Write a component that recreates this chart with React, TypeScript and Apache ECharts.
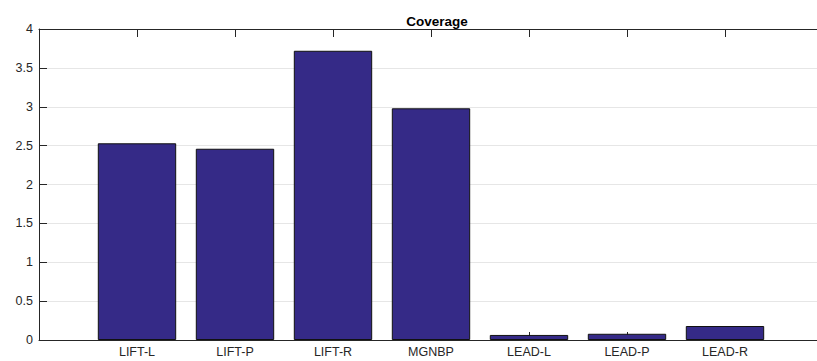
import React, { useEffect, useRef } from "react";
import * as echarts from "echarts";

// Coverage per channel group
const categories = ["LIFT-L", "LIFT-P", "LIFT-R", "MGNBP", "LEAD-L", "LEAD-P", "LEAD-R"];
const coverage = [2.53, 2.46, 3.72, 2.98, 0.065, 0.08, 0.18];
const yTicks = { min: 0, max: 4, interval: 0.5 };

const FONT = "'Liberation Sans', Arial, Helvetica, sans-serif";
const AXIS_COLOR = "#262626";
const BAR_COLOR = "#352a87";

export default function App() {
  const ref = useRef<HTMLDivElement>(null);

  useEffect(() => {
    if (!ref.current) return;
    const chart = echarts.init(ref.current, undefined, { renderer: "svg" });

    // Categories sit at positions 1..7 on a 0..8 span, so pad both ends
    const axisData = ["", ...categories, ""];
    const barData: (number | string)[] = ["-", ...coverage, "-"];

    const xAxisBase = {
      type: "category" as const,
      data: axisData,
      boundaryGap: false,
      axisLine: { show: true, lineStyle: { color: AXIS_COLOR, width: 1 } },
      axisTick: {
        show: true,
        inside: true,
        length: 8,
        lineStyle: { color: AXIS_COLOR, width: 1 },
      },
      splitLine: { show: false },
    };

    chart.setOption({
      animation: false,
      backgroundColor: "#ffffff",
      title: {
        text: "Coverage",
        left: 432,
        top: 9,
        textAlign: "center",
        textStyle: {
          fontFamily: FONT,
          fontSize: 13.5,
          fontWeight: "bold",
          color: "#000000",
        },
      },
      grid: { left: 39, right: 0, top: 29, bottom: 21, containLabel: false },
      xAxis: [
        {
          ...xAxisBase,
          position: "bottom",
          axisLabel: {
            show: true,
            margin: 5,
            fontFamily: FONT,
            fontSize: 12.5,
            color: AXIS_COLOR,
            interval: 0,
          },
        },
        {
          ...xAxisBase,
          position: "top",
          axisLabel: { show: false },
        },
      ],
      yAxis: {
        type: "value",
        min: yTicks.min,
        max: yTicks.max,
        interval: yTicks.interval,
        axisLine: { show: true, lineStyle: { color: AXIS_COLOR, width: 1 } },
        axisTick: {
          show: true,
          inside: true,
          length: 8,
          lineStyle: { color: AXIS_COLOR, width: 1 },
        },
        axisLabel: {
          margin: 6,
          fontFamily: FONT,
          fontSize: 12.5,
          color: AXIS_COLOR,
        },
        splitLine: { show: true, lineStyle: { color: "#e6e6e6", width: 1 } },
      },
      series: [
        {
          type: "bar",
          xAxisIndex: 0,
          data: barData,
          barWidth: "80%",
          itemStyle: {
            color: BAR_COLOR,
            borderColor: "#111111",
            borderWidth: 1,
          },
        },
      ],
    });

    return () => chart.dispose();
  }, []);

  // The plot box runs a little past the right edge of the page and is clipped there
  return (
    <div
      ref={ref}
      style={{ position: "fixed", left: 0, top: 0, width: 826, height: 361 }}
    />
  );
}
